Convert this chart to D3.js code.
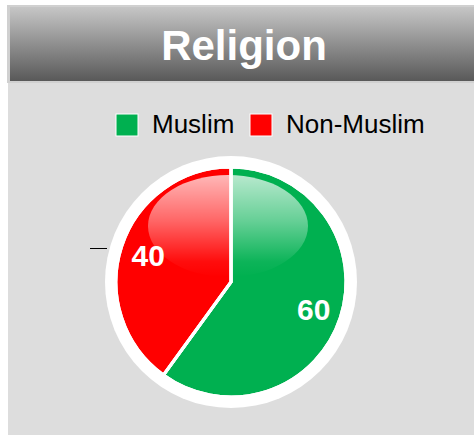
<!DOCTYPE html>
<html>
<head>
<meta charset="utf-8">
<script src="https://cdn.jsdelivr.net/npm/d3@7"></script>
<style>
  html, body { margin: 0; padding: 0; background: #ffffff; }
  svg { display: block; }
</style>
</head>
<body>
<svg id="chart" width="474" height="435"></svg>
<script>
const title = "Religion";
const categories = ["Muslim", "Non-Muslim"];
const values = [60, 40];
const colors = ["#00b050", "#ff0000"];

const W = 474, H = 435;
const svg = d3.select("#chart");
const defs = svg.append("defs");

const hg = defs.append("linearGradient").attr("id", "hdr").attr("x1", 0).attr("y1", 0).attr("x2", 0).attr("y2", 1);
hg.append("stop").attr("offset", "0%").attr("stop-color", "#c6c6c6");
hg.append("stop").attr("offset", "100%").attr("stop-color", "#595959");

const gl = defs.append("linearGradient").attr("id", "gloss").attr("x1", 0).attr("y1", 0).attr("x2", 0).attr("y2", 1);
gl.append("stop").attr("offset", "0%").attr("stop-color", "#ffffff").attr("stop-opacity", 0.72);
gl.append("stop").attr("offset", "45%").attr("stop-color", "#ffffff").attr("stop-opacity", 0.4);
gl.append("stop").attr("offset", "85%").attr("stop-color", "#ffffff").attr("stop-opacity", 0.05);
gl.append("stop").attr("offset", "100%").attr("stop-color", "#ffffff").attr("stop-opacity", 0.0);

// body panel
svg.append("rect").attr("x", 8).attr("y", 82).attr("width", W - 8).attr("height", H - 82).attr("fill", "#dddddd");

// header
svg.append("rect").attr("x", 7).attr("y", 5).attr("width", W - 7).attr("height", 78).attr("fill", "#d0d0d0");
svg.append("rect").attr("x", 10).attr("y", 7).attr("width", W - 10).attr("height", 74).attr("fill", "url(#hdr)");
svg.append("text").attr("x", 244).attr("y", 60).attr("text-anchor", "middle")
  .attr("font-family", "Liberation Sans, Arial, sans-serif").attr("font-weight", "bold")
  .attr("font-size", 42).attr("fill", "#ffffff").text(title);

// legend
const legendX = [116, 250];
const leg = svg.append("g");
categories.forEach((c, i) => {
  leg.append("rect").attr("x", legendX[i]).attr("y", 114).attr("width", 22).attr("height", 22)
    .attr("fill", colors[i]).attr("stroke", "#ffffff").attr("stroke-width", 1);
  leg.append("text").attr("x", legendX[i] + 36).attr("y", 132.5)
    .attr("font-family", "Liberation Sans, Arial, sans-serif").attr("font-size", 26)
    .attr("fill", "#000000").text(c);
});

// pie
const cx = 231, cy = 282, R = 115;
const g = svg.append("g").attr("transform", `translate(${cx},${cy})`);
g.append("circle").attr("r", 126).attr("fill", "#ffffff");

const pie = d3.pie().sort(null).value(d => d)(values);
const arc = d3.arc().innerRadius(0).outerRadius(R);
g.selectAll("path.slice").data(pie).enter().append("path")
  .attr("class", "slice").attr("d", arc)
  .attr("fill", (d, i) => colors[i])
  .attr("stroke", "#ffffff").attr("stroke-width", 3).attr("stroke-linejoin", "miter");

// gloss
const clip = defs.append("clipPath").attr("id", "pieclip");
clip.append("circle").attr("cx", cx).attr("cy", cy).attr("r", R);
svg.append("ellipse").attr("cx", 228).attr("cy", 226).attr("rx", 80).attr("ry", 51)
  .attr("fill", "url(#gloss)").attr("clip-path", "url(#pieclip)");
// redraw divider lines over gloss
g.selectAll("path.edge").data(pie).enter().append("path")
  .attr("class", "edge").attr("d", arc).attr("fill", "none")
  .attr("stroke", "#ffffff").attr("stroke-width", 3);

// labels
const labelArc = d3.arc().innerRadius(87).outerRadius(87);
g.selectAll("text.lbl").data(pie).enter().append("text")
  .attr("class", "lbl")
  .attr("transform", d => `translate(${labelArc.centroid(d)})`)
  .attr("text-anchor", "middle").attr("dy", "0.36em")
  .attr("font-family", "Liberation Sans, Arial, sans-serif").attr("font-weight", "bold")
  .attr("font-size", 30).attr("fill", "#ffffff")
  .text(d => d.data);

// small leader stub
svg.append("line").attr("x1", 90).attr("x2", 107).attr("y1", 248.5).attr("y2", 248.5)
  .attr("stroke", "#000000").attr("stroke-width", 1);
</script>
</body>
</html>
